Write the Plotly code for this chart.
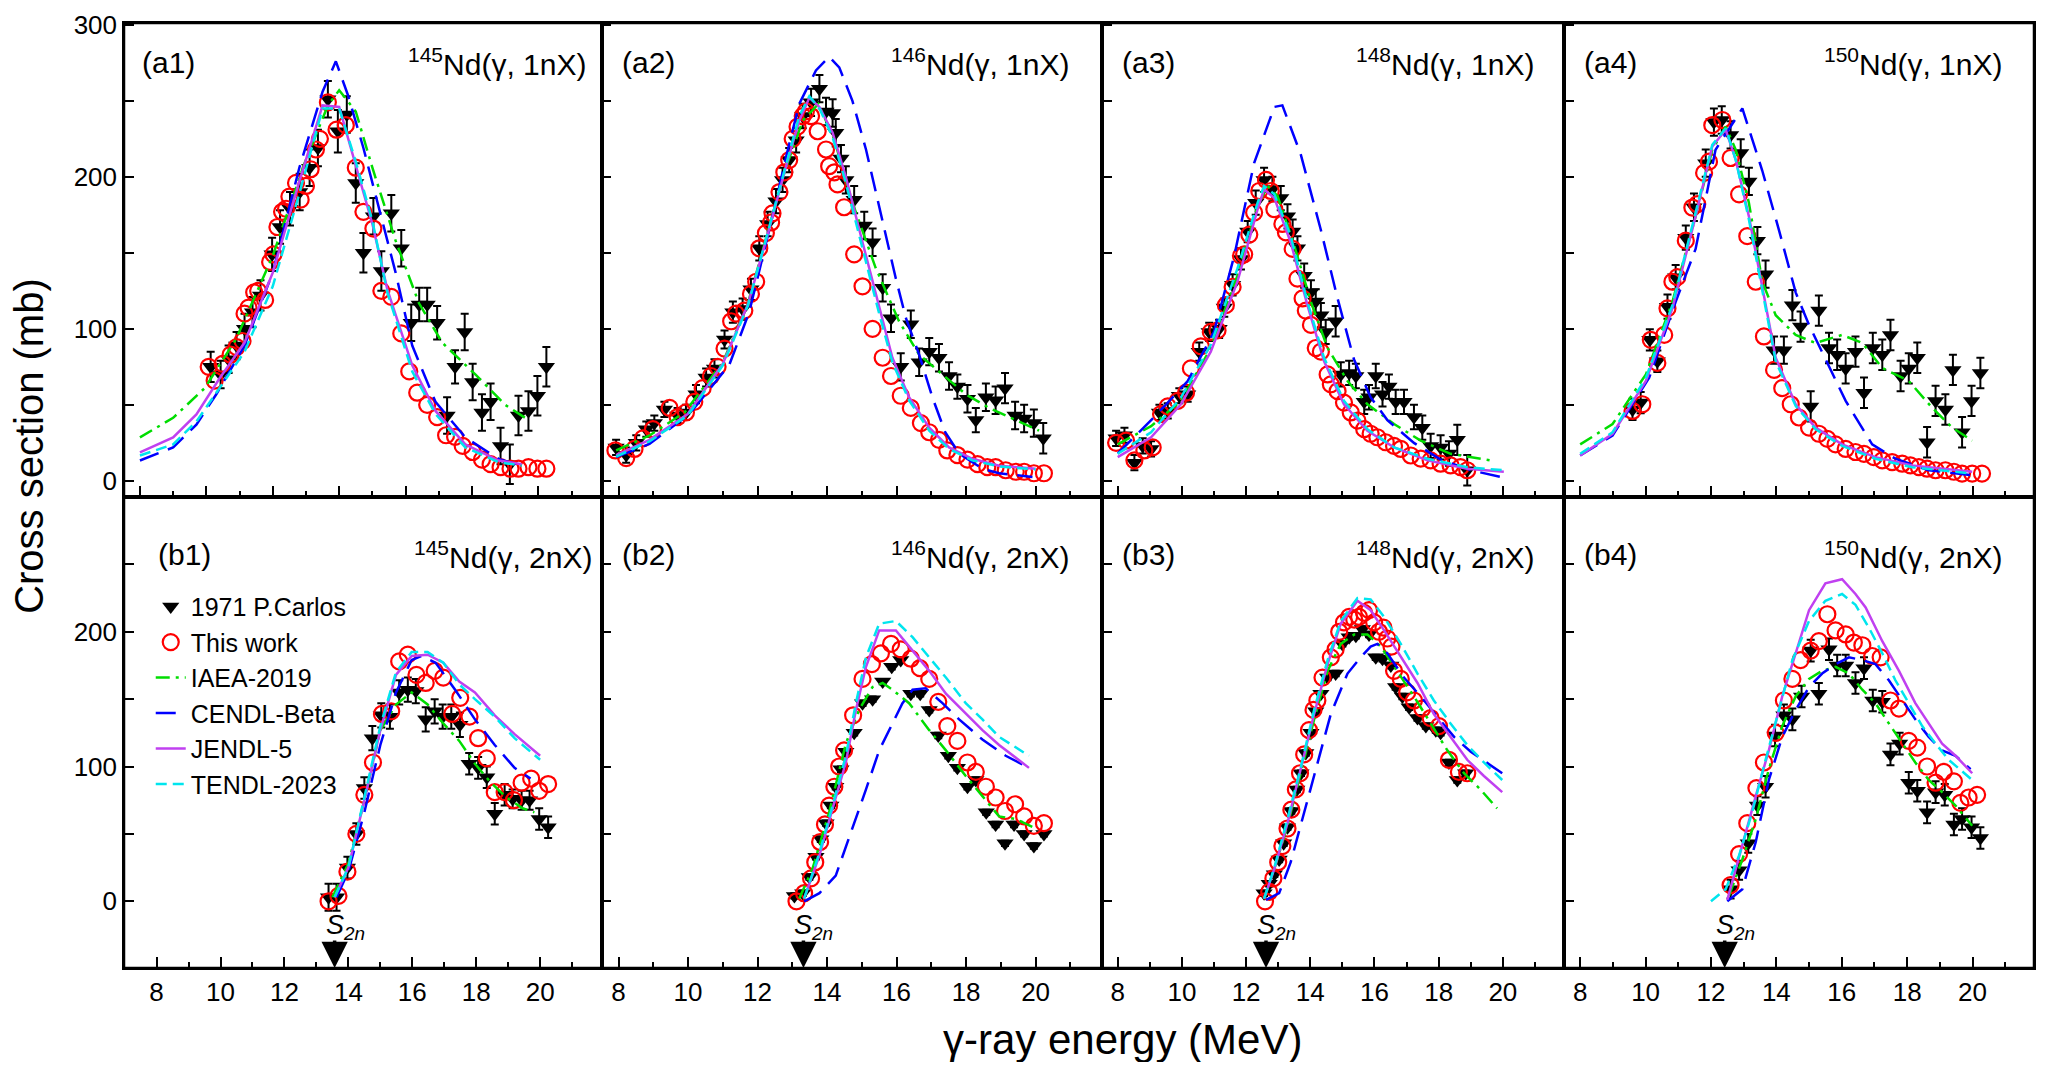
import plotly.graph_objs as go
from plotly.subplots import make_subplots

# ---------------- data ----------------
# (a1) 145Nd(g, 1nX)
a1_carlos_e = [10.13, 10.43, 10.67, 10.91, 11.15, 11.39, 11.63, 11.98, 12.22, 12.52, 12.81, 13.11, 13.36, 13.66, 13.96,
               14.23, 14.50, 14.73, 15.03, 15.27, 15.57, 15.87, 16.17, 16.41, 16.65, 16.95, 17.25, 17.49, 17.78, 18.02,
               18.30, 18.56, 18.86, 19.14, 19.40, 19.70, 19.97, 20.24]
a1_carlos_y = [75, 70, 80, 89, 100, 111, 122, 149, 167, 179, 190, 206, 219, 251, 230, 241, 196, 150, 174, 138, 176,
               153, 104, 116, 116, 104, 43, 75, 98, 65, 45, 52, 23, 11, 43, 46, 56, 75]
a1_carlos_err = [10, 9, 9, 9, 10, 10, 10, 11, 11, 11, 12, 12, 12, 12, 14, 12, 13, 13, 12, 13, 12, 12, 12, 11, 11,
                 11, 12, 11, 12, 12, 12, 12, 12, 13, 13, 13, 13, 13]
a1_work_e = [10.07, 10.25, 10.49, 10.73, 10.91, 11.09, 11.15, 11.27, 11.44, 11.56, 11.77, 11.92, 12.02, 12.14, 12.28,
             12.40, 12.50, 12.70, 12.84, 13.00, 13.14, 13.30, 13.42, 13.66, 13.92, 14.20, 14.50, 14.73, 15.03, 15.27,
             15.57, 15.87, 16.11, 16.35, 16.65, 16.95, 17.22, 17.49, 17.72, 18.02, 18.30, 18.56, 18.86, 19.16, 19.40,
             19.70, 19.97, 20.24]
a1_work_y = [75, 66, 77, 83, 88, 92, 110, 114, 124, 125, 119, 144, 149, 167, 177, 179, 187, 196, 185, 194, 205, 218,
             225, 249, 231, 234, 206, 177, 166, 125, 121, 97, 72, 58, 50, 42, 30, 29, 23, 19, 14, 11, 9, 8, 8, 9, 8, 8]
a1_iaea_e = [8.0, 9.0, 9.95, 10.9, 12.0, 12.94, 13.66, 14.0, 14.5, 15.0, 15.7, 16.4, 17.1, 18.1, 19.0, 19.6]
a1_iaea_y = [28.6, 41.5, 61, 93.5, 148, 208, 247, 257, 243, 206, 158, 117, 91, 70, 50, 41.5]
a1_cendl_e = [8.0, 9.0, 9.7, 10.3, 11.15, 12.0, 12.8, 13.5, 13.9, 14.26, 14.73, 15.2, 15.7, 16.2, 16.9, 17.8, 18.8, 19.5]
a1_cendl_y = [13.4, 22, 37, 57, 89, 137, 206, 256, 276, 254, 219, 180, 137, 89, 52, 28.6, 14.5, 10]
a1_jendl_e = [8.0, 9.0, 9.7, 10.4, 11.15, 12.0, 12.8, 13.5, 14.0, 14.5, 15.0, 15.45, 16.2, 16.9, 17.8, 18.8, 19.5]
a1_jendl_y = [18.8, 28.6, 43.7, 67.5, 91, 137, 197, 247, 246, 208, 169, 126, 76, 46, 24, 13.4, 11]
a1_tendl_e = [8.0, 9.0, 9.7, 10.4, 11.15, 12.0, 12.8, 13.5, 14.0, 14.5, 15.0, 15.45, 16.2, 16.9, 17.8, 18.8, 19.5]
a1_tendl_y = [16.7, 24, 39, 61, 85, 128, 189, 245, 245, 210, 171, 124, 72, 44, 22, 12.3, 10]

# (a2) 146Nd(g, 1nX)
a2_carlos_e = [7.93, 8.22, 8.51, 8.80, 9.03, 9.32, 9.70, 9.94, 10.23, 10.52, 10.76, 11.05, 11.29, 11.57, 11.81,
               12.05, 12.29, 12.53, 12.72, 12.91, 13.11, 13.30, 13.54, 13.78, 13.97, 14.16, 14.25, 14.40, 14.54,
               14.78, 15.07, 15.31, 15.60, 15.84, 16.12, 16.41, 16.65, 16.94, 17.22, 17.51, 17.75, 18.04, 18.28,
               18.57, 18.85, 19.12, 19.41, 19.67, 19.95, 20.22]
a2_carlos_y = [22, 17, 25, 34, 38, 47, 43, 45, 57, 68, 74, 93, 111, 113, 126, 153, 169, 184, 198, 211, 224, 240,
               249, 258, 243, 242, 229, 212, 198, 185, 168, 157, 127, 107, 75, 103, 78, 85, 81, 69, 62, 54, 40, 55,
               53, 61, 43, 41, 38, 28]
a2_carlos_err = [5, 5, 5, 5, 5, 5, 5, 5, 6, 6, 6, 6, 7, 7, 7, 8, 8, 8, 8, 8, 8, 8, 9, 9, 9, 9, 9, 9, 9, 9,
                 9, 9, 9, 9, 9, 9, 9, 9, 9, 9, 8, 9, 8, 9, 9, 10, 9, 9, 9, 10]
a2_work_e = [7.91, 8.22, 8.46, 8.70, 8.99, 9.47, 9.70, 9.94, 10.18, 10.42, 10.66, 10.85, 11.05, 11.24, 11.38, 11.62,
             11.81, 11.96, 12.05, 12.24, 12.39, 12.43, 12.63, 12.77, 12.91, 13.01, 13.15, 13.30, 13.39, 13.54, 13.73,
             13.97, 14.06, 14.21, 14.30, 14.49, 14.78, 15.02, 15.31, 15.60, 15.84, 16.12, 16.41, 16.70, 16.94, 17.22,
             17.46, 17.75, 18.04, 18.33, 18.61, 18.85, 19.14, 19.43, 19.67, 19.95, 20.24]
a2_work_y = [20, 15, 21, 28, 34, 48, 42, 45, 52, 61, 69, 75, 87, 105, 110, 112, 123, 131, 153, 163, 170, 176, 190,
             203, 211, 225, 233, 240, 243, 240, 230, 218, 207, 203, 195, 180, 149, 128, 100, 81, 69, 56, 48, 38, 32,
             27, 20, 17, 14, 11, 9, 9, 7, 6, 6, 5, 5]
a2_iaea_e = [7.93, 8.9, 9.9, 11.0, 11.7, 12.3, 12.8, 13.3, 13.75, 14.2, 14.73, 15.4, 16.07, 16.65, 17.42, 17.99,
             18.66, 19.43, 20.1]
a2_iaea_y = [20, 30, 45, 78, 115, 165, 205, 237, 248, 225, 183, 140, 105, 83, 68, 57, 48, 40, 33]
a2_cendl_e = [7.93, 8.89, 10.04, 11.19, 11.76, 12.43, 12.82, 13.20, 13.68, 14.06, 14.35, 14.73, 15.12, 15.40, 15.69,
              15.98, 16.27, 16.65, 17.03, 17.40, 17.80, 18.47, 18.95, 19.91]
a2_cendl_y = [15.6, 24.3, 43.9, 76.5, 111, 174, 213, 248, 270, 279, 272, 250, 218, 190, 163, 133, 107, 83, 55, 32,
              18, 8, 5, 2.6]
a2_jendl_e = [7.93, 8.89, 9.99, 11.0, 11.72, 12.34, 12.82, 13.20, 13.49, 13.78, 14.16, 14.54, 15.02, 15.50, 15.88,
              16.36, 16.94, 17.51, 18.18, 18.95, 20.0]
a2_jendl_y = [17, 27, 44, 77, 116, 166, 207, 237, 252, 246, 229, 200, 157, 114, 81, 55, 35, 22, 14.5, 10, 8]
a2_tendl_e = [7.93, 8.89, 9.99, 11.0, 11.72, 12.34, 12.82, 13.20, 13.49, 13.78, 14.16, 14.54, 15.02, 15.50, 15.88,
              16.36, 16.94, 17.51, 18.18, 18.95, 20.0]
a2_tendl_y = [16, 26, 43, 76, 115, 167, 209, 240, 253, 245, 226, 196, 153, 110, 78, 53, 33, 21, 13.5, 9.5, 7.5]

# (a3) 148Nd(g, 1nX)
a3_carlos_e = [7.95, 8.21, 8.52, 8.78, 9.04, 9.30, 9.56, 9.92, 10.18, 10.54, 10.85, 11.16, 11.32, 11.58, 11.84,
               12.05, 12.30, 12.56, 12.82, 13.08, 13.29, 13.45, 13.60, 13.81, 14.02, 14.17, 14.33, 14.48, 14.79,
               14.95, 15.21, 15.42, 15.68, 15.83, 16.04, 16.25, 16.45, 16.66, 16.92, 17.23, 17.49, 17.75, 18.06,
               18.32, 18.58, 18.89]
a3_carlos_y = [28, 30, 12, 23, 21, 45, 46, 56, 57, 85, 98, 100, 114, 129, 146, 164, 183, 198, 192, 186, 174, 164,
               153, 135, 124, 118, 109, 98, 105, 70, 71, 69, 52, 55, 69, 57, 62, 52, 52, 42, 35, 23, 22, 18, 27, 7]
a3_carlos_err = [5, 5, 5, 5, 5, 5, 5, 5, 5, 6, 6, 6, 6, 7, 7, 7, 8, 8, 8, 8, 8, 8, 8, 8, 8, 8, 8, 8, 10, 8,
                 8, 8, 8, 8, 8, 8, 8, 8, 8, 8, 8, 8, 8, 8, 10, 10]
a3_work_e = [7.95, 8.26, 8.52, 8.83, 9.09, 9.35, 9.56, 9.87, 10.13, 10.28, 10.59, 10.90, 11.11, 11.37, 11.58, 11.84,
             11.94, 12.10, 12.25, 12.41, 12.62, 12.77, 12.88, 13.13, 13.24, 13.45, 13.60, 13.76, 13.86, 14.02, 14.17,
             14.33, 14.54, 14.64, 14.85, 15.05, 15.26, 15.47, 15.68, 15.88, 16.09, 16.35, 16.61, 16.82, 17.13, 17.44,
             17.75, 18.06, 18.37, 18.68, 18.89]
a3_work_y = [25, 26.5, 13.5, 20, 22, 44, 49, 52.6, 58, 74, 88.5, 98, 99, 115.6, 127.6, 148, 149, 162, 176.5, 190.7,
             198, 190.7, 178.7, 169, 163.5, 152.6, 133, 120, 112, 102.6, 87.4, 85, 70, 63.5, 59, 51.5, 45, 39.6, 34,
             31, 28.7, 25.4, 23, 21, 16.7, 14.6, 13.5, 11.3, 10.2, 9, 7]
a3_iaea_e = [8.0, 9.04, 9.97, 10.9, 11.73, 12.36, 12.67, 12.98, 13.50, 14.02, 14.54, 15.16, 15.78, 16.61, 17.44,
             18.37, 19.62]
a3_iaea_y = [24, 36, 52.6, 87.4, 135, 181, 194, 187.4, 154.8, 117.8, 87.4, 65.7, 50.4, 37.4, 26.5, 17.8, 13.5]
a3_cendl_e = [8.0, 9.14, 10.18, 11.0, 11.63, 12.25, 12.88, 13.13, 13.7, 14.33, 14.85, 15.36, 15.88, 16.4, 17.23,
              18.06, 19.0, 19.93]
a3_cendl_y = [18, 42, 65.6, 98, 148, 209, 246, 247, 215, 165, 120, 80, 55, 40, 25, 14, 7, 2.6]
a3_jendl_e = [8.0, 9.04, 9.97, 10.9, 11.73, 12.36, 12.56, 12.88, 13.39, 13.91, 14.43, 15.05, 15.78, 16.61, 17.65,
              18.89, 20.03]
a3_jendl_y = [15.6, 28.7, 50.4, 85, 131, 178.7, 191.7, 186, 157, 115.6, 78.7, 50.4, 33, 22, 13.5, 8, 6]
a3_tendl_e = [8.0, 9.04, 9.97, 10.9, 11.73, 12.36, 12.56, 12.88, 13.39, 13.91, 14.43, 15.05, 15.78, 16.61, 17.65,
              18.89, 20.03]
a3_tendl_y = [17.8, 32, 54.8, 89.6, 139.6, 183, 194, 188.5, 161, 117.8, 80.9, 52.6, 34, 22, 14.6, 9, 7]

# (a4) 150Nd(g, 1nX)
a4_carlos_e = [9.60, 9.85, 10.13, 10.36, 10.67, 10.92, 11.23, 11.48, 11.84, 12.09, 12.33, 12.60, 12.91, 13.16,
               13.42, 13.67, 13.93, 14.23, 14.49, 14.74, 15.05, 15.30, 15.61, 15.86, 16.12, 16.42, 16.68, 16.95,
               17.24, 17.49, 17.80, 18.05, 18.31, 18.61, 18.87, 19.17, 19.40, 19.68, 19.97, 20.24]
a4_carlos_y = [47, 51.5, 92.8, 78.7, 114.6, 134, 160, 180, 209, 236, 237.4, 227.6, 215.7, 197, 158, 136, 86, 86,
               115.6, 101.5, 49, 112, 87.4, 83, 74, 85, 58, 87.4, 83, 96, 69, 74, 81, 25.4, 52.6, 47, 73, 32, 52.6, 71]
a4_carlos_err = [7, 7, 7, 7, 8, 8, 8, 9, 9, 9, 9, 9, 9, 9, 9, 9, 9, 9, 10, 10,
                 10, 10, 10, 10, 10, 10, 10, 10, 10, 10, 10, 10, 10, 10, 10, 10, 10, 10, 10, 10]
a4_work_e = [9.60, 9.90, 10.16, 10.36, 10.57, 10.67, 10.82, 10.97, 11.23, 11.43, 11.58, 11.79, 11.94, 12.04, 12.35,
             12.60, 12.86, 13.11, 13.37, 13.62, 13.93, 14.18, 14.44, 14.69, 15.00, 15.30, 15.56, 15.81, 16.12, 16.42,
             16.68, 16.98, 17.24, 17.54, 17.85, 18.10, 18.36, 18.61, 18.87, 19.17, 19.43, 19.68, 19.99, 20.29]
a4_work_y = [46, 50.4, 92.8, 77.6, 96, 113.5, 131, 134, 158, 179.8, 182, 202.6, 210, 234, 237.4, 212.4, 188.5, 161,
             131, 95, 73, 61, 50.4, 41.7, 35, 31, 27.6, 24, 21, 19, 17.8, 15.6, 13.5, 12.4, 11.3, 10.2, 9, 8, 7, 7,
             6, 4.8, 4.8, 4.8]
a4_iaea_e = [8.0, 8.99, 10.01, 10.82, 11.53, 12.04, 12.45, 12.76, 13.16, 13.57, 13.98, 14.59, 15.2, 16.01, 16.63,
             17.24, 18.05, 18.77, 19.38, 19.99]
a4_iaea_y = [24, 37.4, 70, 117.8, 174, 217.8, 233, 217.8, 183, 131, 109, 96, 90.7, 96, 90.7, 74.3, 65.7, 48, 35,
             26.5]
a4_cendl_e = [8.0, 8.99, 10.11, 10.92, 11.53, 12.14, 12.96, 13.57, 14.08, 14.59, 15.0, 15.61, 16.12, 16.93, 17.64,
              18.66, 19.99]
a4_cendl_y = [16.7, 29.8, 67.8, 117.8, 152.6, 217.8, 245, 204, 165, 124, 102.6, 75, 52.6, 24, 14.6, 7, 3.7]
a4_jendl_e = [8.0, 8.99, 10.01, 10.82, 11.53, 12.04, 12.45, 12.76, 13.16, 13.57, 13.98, 14.59, 15.2, 16.01, 17.03,
              18.15, 19.99]
a4_jendl_y = [16.7, 31, 65.7, 113.5, 174, 220, 231, 211, 174, 128.7, 81, 50.4, 35, 24, 15.6, 10.2, 6]
a4_tendl_e = [8.0, 8.99, 10.01, 10.82, 11.53, 12.04, 12.45, 12.76, 13.16, 13.57, 13.98, 14.59, 15.2, 16.01, 17.03,
              18.15, 19.99]
a4_tendl_y = [17.8, 32, 67.8, 115.6, 176.5, 221, 232, 211, 172, 126.5, 78.7, 49.3, 34, 23, 14.6, 9, 4.8]

# (b1) 145Nd(g, 2nX)
b1_carlos_e = [13.38, 13.63, 13.97, 14.25, 14.50, 14.75, 15.03, 15.30, 15.59, 15.86, 16.11, 16.42, 16.70, 16.95,
               17.22, 17.49, 17.78, 18.06, 18.33, 18.58, 18.89, 19.14, 19.42, 19.67, 19.97, 20.25]
b1_carlos_y = [3, 3, 25, 50, 84, 121, 138, 137, 155, 157, 156, 135, 141, 137, 137, 131, 102, 99, 92, 65, 79, 76,
               75, 75, 61, 55]
b1_carlos_err = [10, 10, 8, 8, 8, 9, 9, 9, 9, 9, 9, 9, 9, 9, 9, 9, 8, 8, 8, 8, 8, 7, 7, 7, 8, 8]
b1_work_e = [13.38, 13.69, 13.97, 14.25, 14.50, 14.77, 15.05, 15.34, 15.59, 15.86, 16.13, 16.42, 16.70, 16.97, 17.25,
             17.50, 17.79, 18.06, 18.33, 18.58, 18.89, 19.18, 19.42, 19.72, 19.97, 20.25]
b1_work_y = [0, 4, 22, 50, 79, 103, 139, 141, 178, 183, 168, 162, 171, 166, 139, 151, 137, 121, 106, 81, 81, 75, 88,
             91, 82, 87]
b1_iaea_e = [13.5, 14.0, 14.5, 15.0, 15.49, 15.98, 16.48, 16.97, 17.47, 17.96, 18.46, 18.95, 19.45, 19.82]
b1_iaea_y = [3, 28, 75, 127, 146, 155, 146, 132, 119, 102, 88, 77, 69, 66]
b1_cendl_e = [13.63, 14.0, 14.5, 15.0, 15.49, 15.98, 16.29, 16.73, 17.34, 17.96, 18.58, 19.2, 19.7]
b1_cendl_y = [3, 22, 66, 116, 155, 179, 182, 177, 157, 135, 116, 99, 91]
b1_jendl_e = [13.57, 14.0, 14.5, 15.0, 15.49, 15.98, 16.48, 16.97, 17.47, 17.96, 18.58, 19.2, 20.0]
b1_jendl_y = [3, 25, 75, 127, 168, 182, 183, 177, 163, 155, 138, 124, 108]
b1_tendl_e = [13.57, 14.0, 14.5, 15.0, 15.49, 15.98, 16.48, 16.97, 17.47, 17.96, 18.58, 19.2, 20.0]
b1_tendl_y = [3, 25, 77, 130, 170, 185, 185, 177, 161, 150, 137, 121, 105]

# (b2) 146Nd(g, 2nX)
b2_carlos_e = [13.06, 13.30, 13.49, 13.68, 13.82, 13.97, 14.11, 14.25, 14.40, 14.54, 14.78, 15.02, 15.31, 15.60,
               15.86, 16.12, 16.41, 16.68, 16.94, 17.20, 17.49, 17.75, 18.04, 18.28, 18.58, 18.85, 19.12, 19.38,
               19.67, 19.95, 20.24]
b2_carlos_y = [4, 6, 18, 33, 46, 58, 71, 85, 98, 111, 125, 147, 150, 163, 174, 179, 154, 154, 142, 123, 108, 99, 85,
               90, 66, 57, 43, 57, 50, 41, 50]
b2_carlos_err = [2, 2, 2, 2, 2, 2, 2, 2, 2, 2, 2, 2, 2, 2, 2, 2, 2, 2, 2, 2, 2, 2, 2, 2, 2, 2, 2, 2, 2, 2, 2]
b2_work_e = [13.12, 13.34, 13.54, 13.66, 13.80, 13.94, 14.06, 14.21, 14.35, 14.49, 14.75, 15.02, 15.29, 15.55, 15.84,
             16.12, 16.41, 16.67, 16.94, 17.20, 17.46, 17.75, 18.04, 18.28, 18.57, 18.85, 19.12, 19.41, 19.67, 19.95,
             20.24]
b2_work_y = [0, 6, 17, 29, 44, 57, 71, 85, 100, 112, 138, 165, 176, 184, 191, 187, 180, 173, 165, 148, 130, 119, 103,
             96, 85, 77, 67, 72, 63, 56, 58]
b2_iaea_e = [13.20, 13.58, 14.06, 14.54, 14.92, 15.31, 15.60, 15.88, 16.36, 16.94, 17.42, 17.99, 18.47, 18.95,
             19.43, 20.0]
b2_iaea_y = [2, 24, 66, 117, 142, 159, 162, 157, 147, 127, 112, 93, 78, 63, 61, 54]
b2_cendl_e = [13.34, 13.78, 14.25, 14.73, 15.12, 15.50, 15.88, 16.17, 16.46, 16.84, 17.32, 17.80, 18.47, 19.14, 19.81]
b2_cendl_y = [0, 6, 19, 54, 83, 112, 132, 147, 157, 158, 147, 135, 120, 108, 99]
b2_jendl_e = [13.34, 13.78, 14.16, 14.54, 14.83, 15.12, 15.50, 15.98, 16.46, 16.94, 17.42, 17.99, 18.47, 18.95, 19.81]
b2_jendl_y = [2, 34, 69, 103, 142, 174, 201, 201, 186, 171, 154, 139, 127, 116, 99]
b2_tendl_e = [13.34, 13.78, 14.16, 14.54, 14.83, 15.12, 15.50, 15.98, 16.46, 16.94, 17.42, 17.99, 18.47, 18.95, 19.81]
b2_tendl_y = [2, 36, 71, 108, 147, 181, 206, 208, 196, 181, 166, 147, 135, 122, 108]

# (b3) 148Nd(g, 2nX)
b3_carlos_e = [12.56, 12.72, 12.88, 13.03, 13.17, 13.29, 13.41, 13.58, 13.71, 13.86, 14.02, 14.17, 14.33, 14.54,
               14.79, 15.00, 15.21, 15.42, 15.62, 15.83, 16.04, 16.25, 16.51, 16.66, 16.87, 17.08, 17.34, 17.60,
               17.91, 18.06, 18.32, 18.58, 18.84]
b3_carlos_y = [6, 13, 20, 31, 43, 55, 67, 83, 95, 110, 125, 141, 154, 166, 169, 191, 196, 197, 202, 198, 181, 180,
               175, 159, 152, 144, 136, 130, 127, 125, 103, 90, 95]
b3_carlos_err = [2, 2, 2, 2, 2, 2, 2, 2, 2, 2, 2, 2, 2, 2, 2, 2, 2, 2, 2, 2, 2, 2, 2, 2, 2, 2, 2, 2, 2, 2, 2, 2, 2]
b3_work_e = [12.59, 12.72, 12.85, 13.00, 13.13, 13.29, 13.41, 13.55, 13.68, 13.81, 13.96, 14.10, 14.22, 14.38, 14.64,
             14.79, 14.90, 15.05, 15.21, 15.37, 15.52, 15.68, 15.83, 15.99, 16.14, 16.28, 16.40, 16.53, 16.61, 16.82,
             17.02, 17.23, 17.49, 17.75, 18.01, 18.32, 18.63, 18.89]
b3_work_y = [0, 7, 17, 29, 41, 54, 68, 83, 95, 109, 127, 142, 149, 166, 181, 187, 200, 207, 211, 209, 211, 214, 216,
             207, 200, 203, 195, 189, 171, 165, 155, 149, 143, 136, 130, 105, 96, 95]
b3_iaea_e = [12.56, 12.88, 13.29, 13.71, 14.12, 14.54, 14.95, 15.37, 15.78, 16.20, 16.71, 17.23, 17.75, 18.27,
             18.79, 19.30, 19.82]
b3_iaea_y = [2, 24, 56, 95, 135, 171, 191, 198, 198, 189, 171, 152, 132, 112, 95, 83, 69]
b3_cendl_e = [12.62, 13.03, 13.39, 13.81, 14.22, 14.64, 15.16, 15.57, 15.88, 16.09, 16.40, 16.92, 17.44, 17.96,
              18.48, 19.0, 19.51, 19.98]
b3_cendl_y = [1, 6, 29, 66, 103, 139, 169, 181, 189, 191, 184, 166, 152, 137, 122, 111, 103, 95]
b3_jendl_e = [12.56, 12.88, 13.29, 13.71, 14.12, 14.54, 14.95, 15.47, 15.88, 16.30, 16.82, 17.34, 17.85, 18.37,
              18.89, 19.41, 19.98]
b3_jendl_y = [2, 24, 58, 98, 139, 176, 206, 223, 216, 201, 181, 162, 139, 122, 105, 93, 81]
b3_tendl_e = [12.56, 12.88, 13.29, 13.71, 14.12, 14.54, 14.95, 15.47, 15.88, 16.30, 16.82, 17.34, 17.85, 18.37,
              18.89, 19.41, 19.98]
b3_tendl_y = [2, 25, 61, 100, 142, 179, 208, 225, 224, 211, 191, 169, 149, 132, 116, 103, 90]

# (b4) 150Nd(g, 2nX)
b4_carlos_e = [12.60, 12.86, 13.14, 13.42, 13.67, 13.96, 14.23, 14.49, 14.77, 15.05, 15.30, 15.61, 15.86, 16.12,
               16.42, 16.68, 16.95, 17.24, 17.49, 17.77, 18.05, 18.31, 18.61, 18.87, 19.15, 19.43, 19.68, 19.97, 20.24]
b4_carlos_y = [9, 23, 43, 71, 85, 123, 138, 135, 152, 186, 154, 187, 175, 175, 162, 173, 149, 148, 109, 117, 88, 82,
               66, 81, 79, 57, 61, 55, 47]
b4_carlos_err = [7, 7, 7, 7, 8, 8, 8, 8, 8, 8, 8, 8, 8, 8, 8, 8, 8, 8, 8, 8, 8, 8, 8, 8, 8, 8, 8, 8, 8]
b4_work_e = [12.60, 12.86, 13.11, 13.39, 13.62, 13.98, 14.23, 14.49, 14.74, 15.05, 15.30, 15.56, 15.81, 16.12, 16.37,
             16.63, 16.93, 17.19, 17.49, 17.75, 18.05, 18.31, 18.61, 18.87, 19.12, 19.43, 19.63, 19.88, 20.14]
b4_work_y = [12, 35, 58, 84, 103, 125, 149, 165, 179, 186, 193, 213, 201, 198, 192, 190, 182, 181, 149, 143, 119, 114,
             100, 88, 96, 89, 73, 77, 79]
b4_iaea_e = [12.55, 12.96, 13.37, 13.77, 14.18, 14.59, 15.0, 15.40, 15.81, 16.22, 16.63, 17.03, 17.44, 17.85, 18.25,
             18.66, 19.07, 19.48, 19.99]
b4_iaea_y = [4, 31, 61, 98, 130, 152, 165, 171, 174, 169, 157, 147, 132, 117, 103, 90, 81, 71, 56]
b4_cendl_e = [12.5, 12.96, 13.37, 13.77, 14.18, 14.59, 15.0, 15.40, 15.81, 16.22, 16.63, 17.03, 17.44, 17.85, 18.25,
              18.66, 19.07, 19.48, 19.94]
b4_cendl_y = [0, 9, 44, 90, 122, 142, 159, 169, 176, 181, 179, 176, 164, 149, 135, 122, 112, 108, 98]
b4_jendl_e = [12.5, 13.0, 13.37, 13.77, 14.18, 14.59, 15.0, 15.5, 16.01, 16.42, 16.73, 17.24, 17.75, 18.25, 18.66,
              19.07, 19.48, 19.99]
b4_jendl_y = [1, 46, 78, 112, 152, 184, 216, 236, 239, 228, 218, 193, 171, 147, 132, 117, 108, 95]
b4_tendl_e = [12.0, 12.45, 12.86, 13.26, 13.67, 14.08, 14.49, 15.0, 15.5, 16.01, 16.42, 16.83, 17.24, 17.64, 18.05,
              18.46, 18.87, 19.27, 19.99]
b4_tendl_y = [0, 9, 34, 66, 105, 142, 179, 208, 223, 228, 220, 203, 184, 164, 147, 130, 117, 105, 90]

# two-neutron separation energies (MeV) marked under the (g, 2nX) panels
s2n = [13.57, 13.32, 12.62, 12.42]

panel_tags = ['(a1)', '(a2)', '(a3)', '(a4)', '(b1)', '(b2)', '(b3)', '(b4)']
mass_numbers = ['145', '146', '148', '150', '145', '146', '148', '150']
channels = ['1nX', '1nX', '1nX', '1nX', '2nX', '2nX', '2nX', '2nX']

# ---------------- style ----------------
FONT = "Liberation Sans"
COLORS = {'iaea': '#00dd00', 'cendl': '#0000ff', 'jendl': '#c040f0', 'tendl': '#00e5ee'}
DASHES = {'iaea': '14px,6px,3px,6px', 'cendl': '20px,10px', 'jendl': 'solid', 'tendl': '11px,6px'}
NAMES = {'iaea': 'IAEA-2019', 'cendl': 'CENDL-Beta', 'jendl': 'JENDL-5', 'tendl': 'TENDL-2023'}

panels = [
    dict(carlos=(a1_carlos_e, a1_carlos_y, a1_carlos_err), work=(a1_work_e, a1_work_y),
         iaea=(a1_iaea_e, a1_iaea_y), cendl=(a1_cendl_e, a1_cendl_y),
         jendl=(a1_jendl_e, a1_jendl_y), tendl=(a1_tendl_e, a1_tendl_y)),
    dict(carlos=(a2_carlos_e, a2_carlos_y, a2_carlos_err), work=(a2_work_e, a2_work_y),
         iaea=(a2_iaea_e, a2_iaea_y), cendl=(a2_cendl_e, a2_cendl_y),
         jendl=(a2_jendl_e, a2_jendl_y), tendl=(a2_tendl_e, a2_tendl_y)),
    dict(carlos=(a3_carlos_e, a3_carlos_y, a3_carlos_err), work=(a3_work_e, a3_work_y),
         iaea=(a3_iaea_e, a3_iaea_y), cendl=(a3_cendl_e, a3_cendl_y),
         jendl=(a3_jendl_e, a3_jendl_y), tendl=(a3_tendl_e, a3_tendl_y)),
    dict(carlos=(a4_carlos_e, a4_carlos_y, a4_carlos_err), work=(a4_work_e, a4_work_y),
         iaea=(a4_iaea_e, a4_iaea_y), cendl=(a4_cendl_e, a4_cendl_y),
         jendl=(a4_jendl_e, a4_jendl_y), tendl=(a4_tendl_e, a4_tendl_y)),
    dict(carlos=(b1_carlos_e, b1_carlos_y, b1_carlos_err), work=(b1_work_e, b1_work_y),
         iaea=(b1_iaea_e, b1_iaea_y), cendl=(b1_cendl_e, b1_cendl_y),
         jendl=(b1_jendl_e, b1_jendl_y), tendl=(b1_tendl_e, b1_tendl_y)),
    dict(carlos=(b2_carlos_e, b2_carlos_y, b2_carlos_err), work=(b2_work_e, b2_work_y),
         iaea=(b2_iaea_e, b2_iaea_y), cendl=(b2_cendl_e, b2_cendl_y),
         jendl=(b2_jendl_e, b2_jendl_y), tendl=(b2_tendl_e, b2_tendl_y)),
    dict(carlos=(b3_carlos_e, b3_carlos_y, b3_carlos_err), work=(b3_work_e, b3_work_y),
         iaea=(b3_iaea_e, b3_iaea_y), cendl=(b3_cendl_e, b3_cendl_y),
         jendl=(b3_jendl_e, b3_jendl_y), tendl=(b3_tendl_e, b3_tendl_y)),
    dict(carlos=(b4_carlos_e, b4_carlos_y, b4_carlos_err), work=(b4_work_e, b4_work_y),
         iaea=(b4_iaea_e, b4_iaea_y), cendl=(b4_cendl_e, b4_cendl_y),
         jendl=(b4_jendl_e, b4_jendl_y), tendl=(b4_tendl_e, b4_tendl_y)),
]

# layout of the 2 x 4 grid (pixel-matched to the original)
x_ranges = [[7.52, 21.9], [7.51, 21.91], [7.51, 21.92], [7.52, 21.88],
            [6.98, 21.92], [7.51, 21.91], [7.51, 21.92], [7.52, 21.88]]
tag_shift = [16, 18, 18, 18, 32, 18, 18, 18]
title_shift = [14, 31, 28, 30, 8, 31, 28, 30]


def add_panel(fig, idx, p):
    row = idx // 4 + 1
    col = idx % 4 + 1
    legend = (idx == 4)

    e, y, err = p['carlos']
    fig.add_trace(go.Scatter(
        x=e, y=y, mode='markers', name='1971 P.Carlos', legendgroup='carlos', legendrank=1,
        showlegend=legend,
        marker=dict(symbol='triangle-down', size=15, color='black'),
        error_y=dict(type='data', array=err, color='black', thickness=2, width=4)),
        row=row, col=col)

    e, y = p['work']
    fig.add_trace(go.Scatter(
        x=e, y=y, mode='markers', name='This work', legendgroup='work', legendrank=2,
        showlegend=legend,
        marker=dict(symbol='circle-open', size=16, color='#ff0000', line=dict(width=2.2, color='#ff0000'))),
        row=row, col=col)

    for rank, key in enumerate(['iaea', 'cendl', 'jendl', 'tendl']):
        e, y = p[key]
        fig.add_trace(go.Scatter(
            x=e, y=y, mode='lines', name=NAMES[key], legendgroup=key, legendrank=3 + rank,
            showlegend=legend,
            line=dict(color=COLORS[key], dash=DASHES[key], width=2.5)),
            row=row, col=col)


def style_axes(fig, idx):
    row = idx // 4 + 1
    col = idx % 4 + 1
    tick_font = dict(family=FONT, size=26, color='black')

    fig.update_xaxes(
        range=x_ranges[idx], showline=True, mirror=True, linecolor='black', linewidth=1.5,
        showgrid=False, zeroline=False, ticks='inside', ticklen=11, tickwidth=2, tickcolor='black',
        tick0=0, dtick=2, showticklabels=(row == 2), tickfont=tick_font, ticklabelstandoff=0,
        minor=dict(ticks='inside', dtick=1, ticklen=6, tickwidth=2, tickcolor='black'),
        row=row, col=col)

    if row == 1:
        yr = [-10.6, 301.2]
        tv = [0, 50, 100, 150, 200, 250, 300]
        tt = ['0', '', '100', '', '200', '', '300']
    else:
        yr = [-49.5, 300]
        tv = [0, 50, 100, 150, 200, 250]
        tt = ['0', '', '100', '', '200', '']
    fig.update_yaxes(
        range=yr, showline=True, mirror=True, linecolor='black', linewidth=1.5,
        showgrid=False, zeroline=False, ticks='inside', ticklen=10, tickwidth=2, tickcolor='black',
        tickvals=tv, ticktext=tt, showticklabels=(col == 1), tickfont=tick_font,
        ticklabeloverflow='allow',
        row=row, col=col)


def add_labels(fig, idx):
    row = idx // 4 + 1
    col = idx % 4 + 1
    dy = -39 if row == 1 else -58
    lab_font = dict(family=FONT, size=30, color='black')
    fig.add_annotation(text=panel_tags[idx], x=0, y=1, xref='x domain', yref='y domain',
                       xanchor='left', yanchor='middle', xshift=tag_shift[idx], yshift=dy,
                       showarrow=False, font=lab_font, row=row, col=col)
    fig.add_annotation(text='<sup>%s</sup>Nd(γ, %s)' % (mass_numbers[idx], channels[idx]),
                       x=1, y=1, xref='x domain', yref='y domain',
                       xanchor='right', yanchor='middle', xshift=-title_shift[idx], yshift=dy,
                       showarrow=False, font=lab_font, row=row, col=col)


def plot():
    fig = make_subplots(rows=2, cols=4, column_widths=[478, 501, 463, 470], row_heights=[477.5, 474.5],
                        horizontal_spacing=0, vertical_spacing=0)

    for idx, p in enumerate(panels):
        add_panel(fig, idx, p)
        style_axes(fig, idx)
        add_labels(fig, idx)

    # S2n arrows under the (g, 2nX) panels
    for col, e in enumerate(s2n, start=1):
        fig.add_annotation(text='', x=e, y=-49.5, xref='x', yref='y', ax=0, ay=-29,
                           showarrow=True, arrowhead=2, arrowsize=1.5, arrowwidth=3.5, arrowcolor='black',
                           standoff=0, row=2, col=col)
        fig.add_annotation(text='<i>S</i><sub><i>2n</i></sub>', x=e, y=0.086, xref='x', yref='y domain',
                           xanchor='left', yanchor='middle', xshift=-11, showarrow=False,
                           font=dict(family=FONT, size=27, color='black'), row=2, col=col)

    # outer frame
    fig.add_shape(type='rect', xref='paper', yref='paper', x0=0, x1=1, y0=0, y1=1,
                  line=dict(color='black', width=2.5), layer='above')

    # axis titles
    fig.add_annotation(text='Cross section (mb)', x=-0.0495, y=0.553, xref='paper', yref='paper',
                       textangle=-90, showarrow=False, xanchor='center', yanchor='middle',
                       font=dict(family=FONT, size=40, color='black'))
    fig.add_annotation(text='γ-ray energy (MeV)', x=0.523, y=-0.0756, xref='paper', yref='paper',
                       showarrow=False, xanchor='center', yanchor='middle',
                       font=dict(family=FONT, size=42, color='black'))

    # the page body keeps its default 8 px margin, so the figure is 16 px smaller than the window
    fig.update_layout(
        width=2030, height=1054,
        margin=dict(l=116, r=2, t=8, b=94),
        paper_bgcolor='white', plot_bgcolor='white',
        font=dict(family=FONT, color='black'),
        legend=dict(x=0.014, y=0.4065, xanchor='left', yanchor='top', bgcolor='rgba(0,0,0,0)',
                    font=dict(family=FONT, size=25, color='black'), tracegroupgap=6,
                    traceorder='normal'),
    )

    fig.write_html("out.html")


def main():
    plot()


if __name__ == '__main__':
    main()
